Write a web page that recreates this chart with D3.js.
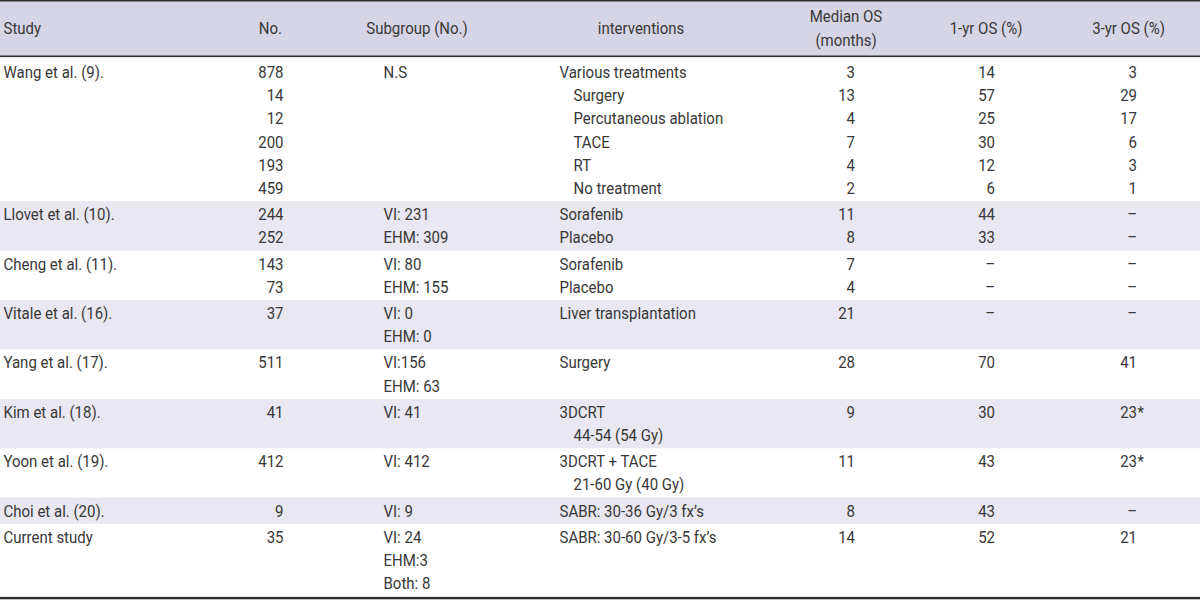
<!DOCTYPE html>
<html>
<head>
<meta charset="utf-8">
<script src="https://cdn.jsdelivr.net/npm/d3@7"></script>
<style>
  html, body { margin: 0; padding: 0; background: #ffffff; }
  svg text { font-family: Roboto, "Liberation Sans", Arial, sans-serif; fill: #383838; }
</style>
</head>
<body>
<svg id="chart" width="1200" height="602"></svg>
<script>
// ---------- DATA ----------
const headers = ["Study", "No.", "Subgroup (No.)", "interventions", "Median OS\n(months)", "1-yr OS (%)", "3-yr OS (%)"];

const studies = ["Wang et al. (9).", "Llovet et al. (10).", "Cheng et al. (11).", "Vitale et al. (16).",
  "Yang et al. (17).", "Kim et al. (18).", "Yoon et al. (19).", "Choi et al. (20).", "Current study"];
const studyLines = [6, 2, 2, 2, 2, 2, 2, 1, 3];

// one entry per text line (22 lines)
const numbers = ["878", "14", "12", "200", "193", "459", "244", "252", "143", "73", "37", "", "511", "", "41", "", "412", "", "9", "35", "", ""];
const subgroups = ["N.S", "", "", "", "", "", "VI: 231", "EHM: 309", "VI: 80", "EHM: 155", "VI: 0", "EHM: 0",
  "VI:156", "EHM: 63", "VI: 41", "", "VI: 412", "", "VI: 9", "VI: 24", "EHM:3", "Both: 8"];
const interventions = ["Various treatments", "Surgery", "Percutaneous ablation", "TACE", "RT", "No treatment",
  "Sorafenib", "Placebo", "Sorafenib", "Placebo", "Liver transplantation", "", "Surgery", "",
  "3DCRT", "44-54 (54 Gy)", "3DCRT + TACE", "21-60 Gy (40 Gy)", "SABR: 30-36 Gy/3 fx\u2019s",
  "SABR: 30-60 Gy/3-5 fx\u2019s", "", ""];
const interventionSub = [0, 1, 1, 1, 1, 1, 0, 0, 0, 0, 0, 0, 0, 0, 0, 1, 0, 1, 0, 0, 0, 0];
const medianOS = ["3", "13", "4", "7", "4", "2", "11", "8", "7", "4", "21", "", "28", "", "9", "", "11", "", "8", "14", "", ""];
const os1yr = ["14", "57", "25", "30", "12", "6", "44", "33", "\u2013", "\u2013", "\u2013", "", "70", "", "30", "", "43", "", "43", "52", "", ""];
const os3yr = ["3", "29", "17", "6", "3", "1", "\u2013", "\u2013", "\u2013", "\u2013", "\u2013", "", "41", "", "23*", "", "23*", "", "\u2013", "21", "", ""];

// ---------- LAYOUT ----------
const W = 1200, H = 602;
const FS = 16.4, SX = 0.915;   // condensed look: taller glyphs, narrower set width
const LH = 23.2, PAD = 3, HEADER_H = 56, BODY_TOP = 59;
const headerFill = "#d6d4e7", stripeFill = "#e8e7f2", ruleColor = "#2e2e2e";

const svg = d3.select("#chart");

// group geometry from line counts
const starts = [];
let acc = 0;
studyLines.forEach(n => { starts.push(acc); acc += n; });
const totalLines = acc;
const yLine = d3.scaleLinear().domain([0, totalLines]).range([0, totalLines * LH]);
const groupTop = g => BODY_TOP + yLine(starts[g]) + g * PAD;
const groupH = g => yLine(studyLines[g]) + PAD;
const lineGroup = [];
studyLines.forEach((n, g) => { for (let i = 0; i < n; i++) lineGroup.push({ g, i }); });
const lineCenter = k => groupTop(lineGroup[k].g) + PAD / 2 + yLine(lineGroup[k].i + 0.5);
const baseOff = FS * 0.355;

// header background
svg.append("rect").attr("x", 0).attr("y", 0).attr("width", W).attr("height", HEADER_H).attr("fill", headerFill);

// stripes
svg.selectAll("rect.stripe").data(studies.map((s, g) => g).filter(g => g % 2 === 1))
  .enter().append("rect").attr("class", "stripe")
  .attr("x", 0).attr("width", W)
  .attr("y", g => groupTop(g)).attr("height", g => groupH(g))
  .attr("fill", stripeFill);

// rules
svg.append("rect").attr("x", 0).attr("y", 0).attr("width", W).attr("height", 1.5).attr("fill", ruleColor);
svg.append("rect").attr("x", 0).attr("y", HEADER_H - 0.5).attr("width", W).attr("height", 1.6).attr("fill", ruleColor);
const bottomY = groupTop(studies.length - 1) + groupH(studies.length - 1);
svg.append("rect").attr("x", 0).attr("y", bottomY + 0.5).attr("width", W).attr("height", 2.4).attr("fill", ruleColor);

// text layer, horizontally condensed
const tg = svg.append("g").attr("transform", `scale(${SX},1)`);
const X = x => x / SX;

// header texts
const headerPos = [
  { x: 3.5, anchor: "start" },
  { x: 282, anchor: "end" },
  { x: 417, anchor: "middle" },
  { x: 641, anchor: "middle" },
  { x: 846, anchor: "middle" },
  { x: 986, anchor: "middle" },
  { x: 1128.5, anchor: "middle" }
];
headers.forEach((h, c) => {
  const parts = h.split("\n");
  const t = tg.append("text").attr("font-size", FS).attr("text-anchor", headerPos[c].anchor);
  parts.forEach((p, j) => {
    const cy = parts.length === 1 ? 28 : 16.5 + j * 24;
    t.append("tspan").attr("x", X(headerPos[c].x)).attr("y", cy + baseOff).text(p);
  });
});

// study names
tg.selectAll("text.study").data(studies).enter().append("text").attr("class", "study")
  .attr("font-size", FS).attr("x", X(3.5))
  .attr("y", (d, g) => lineCenter(starts[g]) + baseOff)
  .text(d => d);

function column(arr, x, anchor, cls, xFn) {
  tg.selectAll("text." + cls).data(arr.map((v, k) => ({ v, k })).filter(d => d.v !== ""))
    .enter().append("text").attr("class", cls)
    .attr("font-size", FS).attr("text-anchor", anchor)
    .attr("x", d => X(xFn ? xFn(d) : x))
    .attr("y", d => lineCenter(d.k) + baseOff)
    .text(d => d.v);
}
column(numbers, 283.5, "end", "num");
column(subgroups, 383.5, "start", "sub");
column(interventions, 559.5, "start", "int", d => 559.5 + interventionSub[d.k] * 14);
column(medianOS, 855, "end", "med");
column(os1yr, 995, "end", "os1");
// 3-yr: digits right aligned, asterisk overhanging
column(os3yr.map(v => v.replace("*", "")), 1137, "end", "os3");
column(os3yr.map(v => v.includes("*") ? "*" : ""), 1137.5, "start", "ast");
</script>
</body>
</html>
